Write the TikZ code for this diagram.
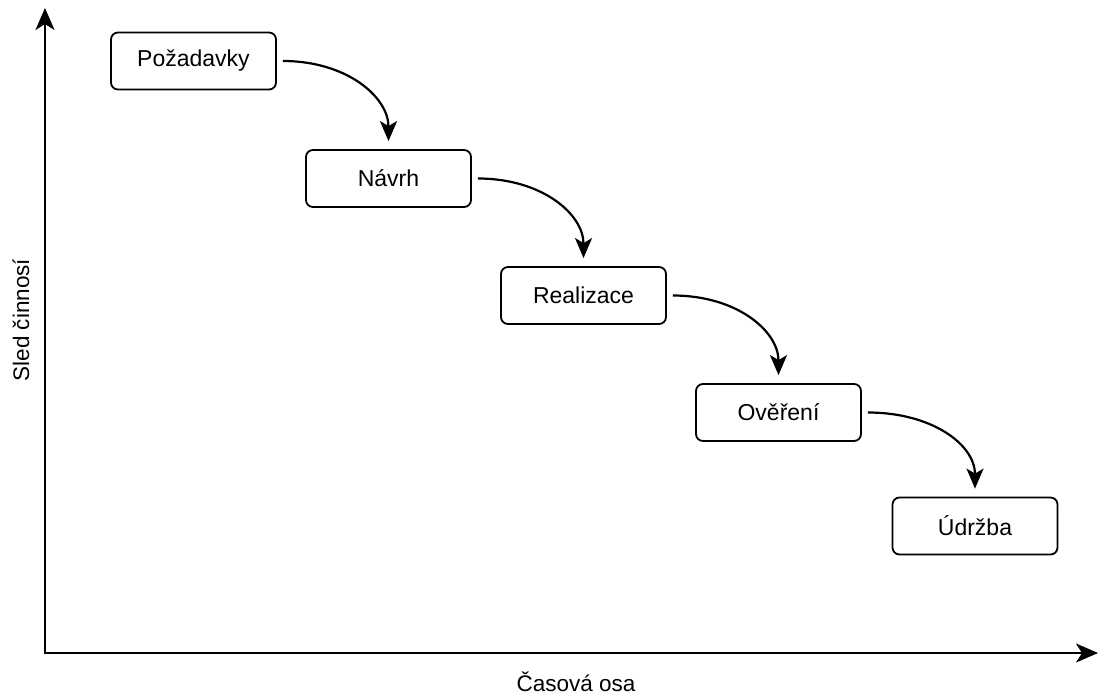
\documentclass[tikz,border=0pt]{standalone}
\usepackage{fontspec}
\setmainfont{Liberation Sans}
\usetikzlibrary{arrows.meta}
\begin{document}
\begin{tikzpicture}[x=1pt,y=-1pt,
  phase/.style={draw, line width=1.8pt, rounded corners=7pt,
    minimum width=165pt, minimum height=57pt, inner sep=0pt,
    font=\fontsize{23}{27}\selectfont},
  axis/.style={line width=2pt, -{Stealth[length=22pt,width=19pt,inset=6pt]}},
  flow/.style={line width=2.2pt, -{Stealth[length=20pt,width=17pt,inset=5pt]}},
  lbl/.style={font=\fontsize{22.5}{27}\selectfont, inner sep=0pt}]
  \useasboundingbox (0,0) rectangle (1099,695);

  % axes
  \coordinate (o) at (45,653);
  \coordinate (ytop) at (45,8);
  \coordinate (xend) at (1098,653);
  \draw[axis] (o) -- (ytop);
  \draw[axis] ([xshift=-1pt]o) -- (xend);
  \node[lbl, rotate=90, anchor=base] (ylab) at (29,320) {Sled činnosí};
  \node[lbl, anchor=base] (xlab) at (576,691) {Časová osa};

  % phases
  \node[phase] (p1) at (193.5,61) {Požadavky};
  \node[phase] (p2) at (388.5,178.5) {Návrh};
  \node[phase] (p3) at (583.5,295.5) {Realizace};
  \node[phase] (p4) at (778.5,412.5) {Ověření};
  \node[phase] (p5) at (975,526) {Údržba};

  % transitions
  \foreach \a/\b in {p1/p2,p2/p3,p3/p4,p4/p5}{
    \draw[flow] ([xshift=6pt]\a.east) .. controls +(64,0) and +(0,-44) .. ([yshift=8pt]\b.north);
  }
\end{tikzpicture}
\end{document}
